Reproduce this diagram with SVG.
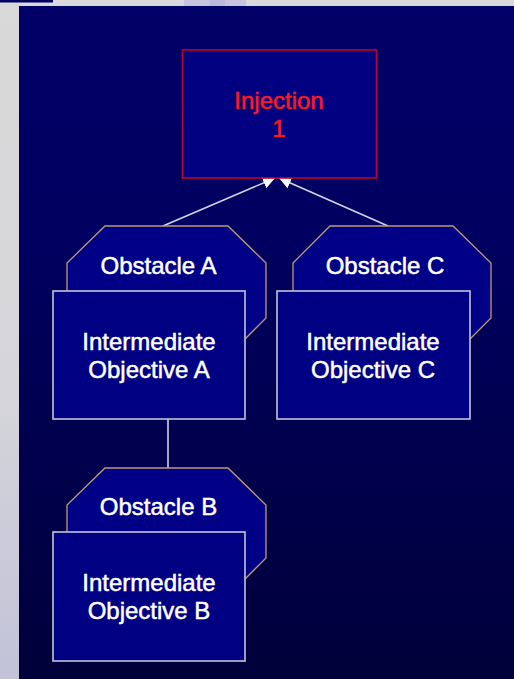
<svg xmlns="http://www.w3.org/2000/svg" width="514" height="679" viewBox="0 0 514 679">
  <defs>
    <linearGradient id="bg" x1="0" y1="0" x2="0" y2="1">
      <stop offset="0" stop-color="#000068"/>
      <stop offset="0.35" stop-color="#000060"/>
      <stop offset="1" stop-color="#00003a"/>
    </linearGradient>
    <linearGradient id="side" x1="0" y1="0" x2="0" y2="1">
      <stop offset="0" stop-color="#d9d9d9"/>
      <stop offset="0.55" stop-color="#d6d6da"/>
      <stop offset="1" stop-color="#c2c2d8"/>
    </linearGradient>
    <marker id="arrow" viewBox="0 0 12 12" refX="12" refY="6" markerWidth="12" markerHeight="12" markerUnits="userSpaceOnUse" orient="auto">
      <path d="M0,0 L12,6 L0,12 Z" fill="#ffffff"/>
    </marker>
    <style>
      .lbl { font-family: "Liberation Sans", Arial, sans-serif; font-size: 24px; fill: #ffffff; stroke: #ffffff; stroke-width: 0.5; text-anchor: middle; }
      .red { fill: #ff1a1a; stroke: #ff1a1a; }
      .obst { fill: #000086; stroke: #c09878; stroke-width: 1.3; }
      .io { fill: #000082; stroke: #c4c4d8; stroke-width: 1.6; }
      .inj { fill: #000080; stroke: #c0002e; stroke-width: 1.6; }
      .conn { stroke: #d4d4e4; stroke-width: 1.6; fill: none; }
    </style>
  </defs>

  <!-- background -->
  <rect x="0" y="0" width="514" height="679" fill="#d9d9d9"/>
  <rect x="0" y="0" width="19" height="679" fill="url(#side)"/>
  <rect x="0" y="0" width="53" height="2.5" fill="#000060"/>
  <rect x="184" y="0" width="62" height="6" fill="#c4c4de"/>
  <rect x="210" y="0" width="15" height="6" fill="#babad8"/>
  <rect x="19" y="6" width="495" height="673" fill="url(#bg)"/>

  <g id="connectors">
    <line class="conn" x1="163" y1="226" x2="275" y2="178" marker-end="url(#arrow)"/>
    <line class="conn" x1="388" y1="226" x2="279" y2="178" marker-end="url(#arrow)"/>
    <line class="conn" x1="168" y1="419" x2="168" y2="468"/>
  </g>

  <g id="injection1">
    <rect class="inj" x="182.5" y="50" width="194" height="128"/>
    <text class="lbl red" x="279" y="109">Injection</text>
    <text class="lbl red" x="279" y="137">1</text>
  </g>

  <g id="obstacleA">
    <polygon class="obst" points="105,226 228,226 266,263 266,318 228,356 105,356 67,318 67,263"/>
    <text class="lbl" x="158.5" y="274">Obstacle A</text>
  </g>
  <g id="objectiveA">
    <rect class="io" x="53" y="291" width="192" height="128"/>
    <text class="lbl" x="149" y="350">Intermediate</text>
    <text class="lbl" x="149" y="378">Objective A</text>
  </g>

  <g id="obstacleC">
    <polygon class="obst" points="330,226 453,226 491,263 491,318 453,356 330,356 293,318 293,263"/>
    <text class="lbl" x="385" y="274">Obstacle C</text>
  </g>
  <g id="objectiveC">
    <rect class="io" x="277" y="291" width="193" height="128"/>
    <text class="lbl" x="373" y="350">Intermediate</text>
    <text class="lbl" x="373" y="378">Objective C</text>
  </g>

  <g id="obstacleB">
    <polygon class="obst" points="105,468 228,468 266,505 266,558 228,596 105,596 67,558 67,505"/>
    <text class="lbl" x="158.5" y="515">Obstacle B</text>
  </g>
  <g id="objectiveB">
    <rect class="io" x="53" y="532" width="192" height="129"/>
    <text class="lbl" x="149" y="591">Intermediate</text>
    <text class="lbl" x="149" y="619">Objective B</text>
  </g>
</svg>
